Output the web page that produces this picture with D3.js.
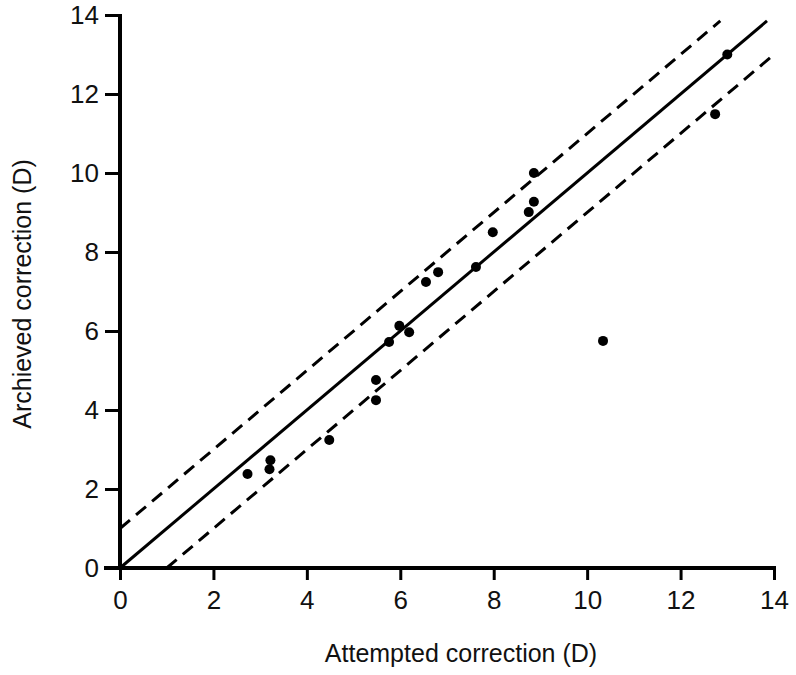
<!DOCTYPE html>
<html>
<head>
<meta charset="utf-8">
<script src="https://cdn.jsdelivr.net/npm/d3@7"></script>
<style>
  body { margin: 0; background: #fff; }
  svg text { font-family: "Liberation Sans", Arial, sans-serif; fill: #111; }
</style>
</head>
<body>
<svg id="chart" width="796" height="675"></svg>
<script>
// data
const attempted = [2.73, 3.2, 3.22, 4.48, 5.48, 5.48, 5.76, 5.98, 6.19, 6.55, 6.81, 7.62, 7.98, 8.75, 8.86, 8.86, 10.34, 12.74, 13.0];
const achieved  = [2.38, 2.5, 2.73, 3.24, 4.25, 4.76, 5.72, 6.13, 5.97, 7.24, 7.49, 7.62, 8.5, 9.01, 9.27, 10.0, 5.75, 11.49, 13.0];
const tickValues = [0, 2, 4, 6, 8, 10, 12, 14];

// reference lines: identity and +/- 1 D
const refLines = [
  { name: 'identity', x: [0, 13.85], y: [0, 13.85], dashed: false },
  { name: 'upper', x: [0, 12.85], y: [1, 13.85], dashed: true },
  { name: 'lower', x: [1, 14], y: [0, 13], dashed: true }
];

const svg = d3.select('#chart');
const x = d3.scaleLinear().domain([0, 14]).range([120, 774]);
const y = d3.scaleLinear().domain([0, 14]).range([568, 15]);

// axes
const xAxis = svg.append('g')
  .attr('transform', 'translate(0,568)')
  .call(d3.axisBottom(x).tickValues(tickValues).tickSize(12).tickPadding(11).tickSizeOuter(0));
const yAxis = svg.append('g')
  .attr('transform', 'translate(120,0)')
  .call(d3.axisLeft(y).tickValues(tickValues).tickSize(15).tickPadding(6).tickSizeOuter(0));

[xAxis, yAxis].forEach(function(ax) {
  ax.select('.domain').attr('stroke', '#000').attr('stroke-width', 4);
  ax.selectAll('.tick line').attr('stroke', '#000').attr('stroke-width', 3);
  ax.selectAll('.tick text').attr('font-size', 26).attr('fill', '#111');
});
xAxis.select('.domain').attr('d', 'M' + (x(0) - 16) + ',0H' + (x(14) + 2));
yAxis.select('.domain').attr('d', 'M0,' + (y(0) + 2) + 'V' + (y(14) - 1));

// reference lines
const line = d3.line().x(d => x(d[0])).y(d => y(d[1]));
svg.append('g').selectAll('path')
  .data(refLines)
  .join('path')
  .attr('d', d => line([[d.x[0], d.y[0]], [d.x[1], d.y[1]]]))
  .attr('fill', 'none')
  .attr('stroke', '#000')
  .attr('stroke-width', 3)
  .attr('stroke-dasharray', d => d.dashed ? '13,8' : null);

// points
svg.append('g').selectAll('circle')
  .data(attempted.map((v, i) => [v, achieved[i]]))
  .join('circle')
  .attr('cx', d => x(d[0]))
  .attr('cy', d => y(d[1]))
  .attr('r', 5)
  .attr('fill', '#000');

// axis titles
svg.append('text')
  .attr('x', 461).attr('y', 662)
  .attr('text-anchor', 'middle')
  .attr('font-size', 25)
  .text('Attempted correction (D)');
svg.append('text')
  .attr('transform', 'translate(31,294) rotate(-90)')
  .attr('text-anchor', 'middle')
  .attr('font-size', 25)
  .text('Archieved correction (D)');
</script>
</body>
</html>
